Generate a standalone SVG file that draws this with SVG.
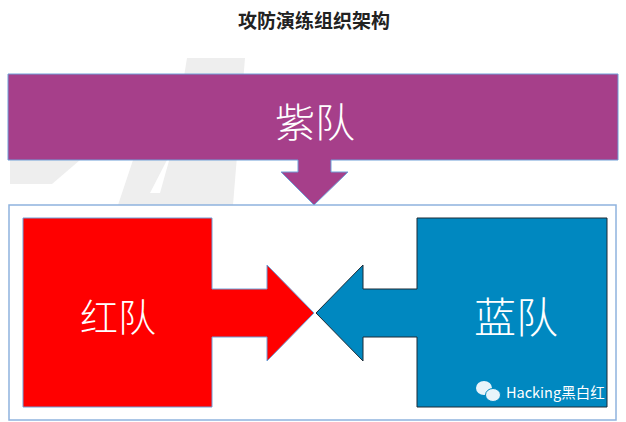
<svg xmlns="http://www.w3.org/2000/svg" width="626" height="422" viewBox="0 0 626 422">
<style>
.lbl{font-family:"Noto Sans CJK SC","Noto Sans",sans-serif;fill:#ffffff;text-anchor:middle;dominant-baseline:central;font-weight:300}
.title{font-family:"Noto Sans CJK SC","Noto Sans",sans-serif;font-weight:bold;font-size:19px;fill:#222;text-anchor:middle}
.wm{font-family:"Noto Sans CJK SC","Noto Sans",sans-serif;font-size:14.5px;fill:#ffffff}
</style>
<rect width="626" height="422" fill="#ffffff"/>
<g id="watermark-bg" fill="#eeeeee">
<polygon points="187,58 245,58 233,205 118,205 133,160 167,160 150,193 160,193 172,150"/>
<polygon points="10,160 80,160 52,184 10,184"/>
</g>
<text class="title" x="314" y="28">攻防演练组织架构</text>
<g id="container">
<rect x="9" y="205" width="607" height="215" fill="#ffffff" stroke="#8fb3de" stroke-width="1.5"/>
</g>
<g id="purple-team">
<path d="M8,74 H618 V160 H331 V172 H348 L314,205 L281,172 H298 V160 H8 Z" fill="#a63f8a" stroke="#6f9fd8" stroke-width="1"/>
<text class="lbl" x="315" y="120" font-size="40">紫队</text>
</g>
<g id="red-team">
<path d="M23,218 H212 V289 H267 V265 L314,313 L267,361 V337 H212 V407 H23 Z" fill="#ff0000" stroke="#6f9fd8" stroke-width="1"/>
<text class="lbl" x="118" y="314" font-size="38">红队</text>
</g>
<g id="blue-team">
<path d="M607,218 H417 V289 H363 V265 L316,313 L363,361 V337 H417 V407 H607 Z" fill="#0088c0" stroke="#1d2b36" stroke-width="1"/>
<text class="lbl" x="516" y="314" font-size="42">蓝队</text>
</g>
<g id="wechat-mark">
<ellipse cx="484" cy="388" rx="8" ry="7" fill="#e8f4fa"/>
<ellipse cx="493" cy="395" rx="7.5" ry="6.5" fill="#e8f4fa" stroke="#0088c0" stroke-width="1"/>
<text class="wm" x="506" y="398">Hacking黑白红</text>
</g>
</svg>
